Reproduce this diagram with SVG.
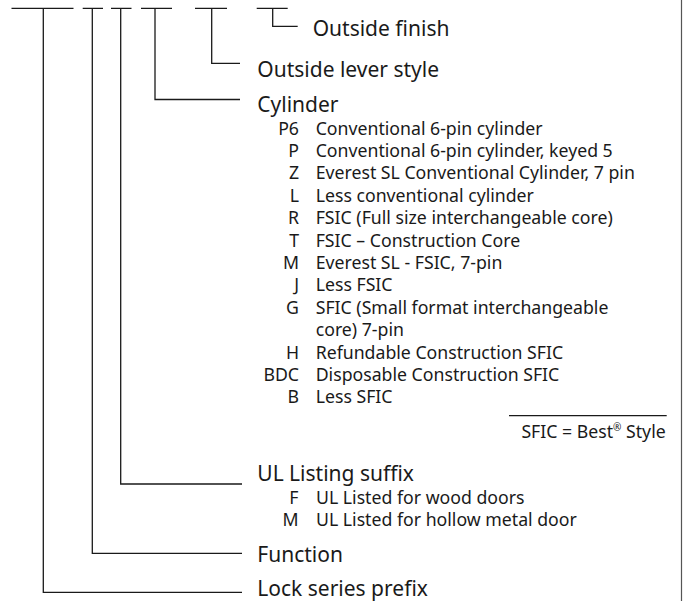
<svg xmlns="http://www.w3.org/2000/svg" width="683" height="601" viewBox="0 0 683 601">
<style>
.h{font-family:"Noto Sans","Open Sans",sans-serif;font-size:21px;fill:#1a1a1a}
.s{font-family:"Noto Sans","Open Sans",sans-serif;font-size:17.7px;fill:#1a1a1a}
.c{text-anchor:end}
.ln{fill:none;stroke:#1a1a1a;stroke-width:1.3}
</style>
<rect width="683" height="601" fill="#fff"/>
<line x1="681.5" y1="0" x2="681.5" y2="601" stroke="#555" stroke-width="1.2"/>
<g id="connectors" class="ln">
<path d="M11.5 8.3H73.5M43.3 8.3V592.3H242"/>
<path d="M82.7 8.3H103M92.3 8.3V553.3H242"/>
<path d="M111 8.3H131.5M120.7 8.3V484H242"/>
<path d="M141 8.3H172M155 8.3V99.5H240"/>
<path d="M195 8.3H227M211.7 8.3V63.3H240"/>
<path d="M256.7 8.3H287.7M272.7 8.3V26.3H297.7"/>
</g>
<g id="outside-finish"><text class="h" x="312.7" y="36">Outside finish</text></g>
<g id="outside-lever"><text class="h" x="257.3" y="76.5">Outside lever style</text></g>
<g id="cylinder">
<text class="h" x="257.3" y="111.5">Cylinder</text>
<text class="s c" x="299" y="134.5">P6</text><text class="s" x="315.7" y="134.5">Conventional 6-pin cylinder</text>
<text class="s c" x="299" y="156.9">P</text><text class="s" x="315.7" y="156.9">Conventional 6-pin cylinder, keyed 5</text>
<text class="s c" x="299" y="179.3">Z</text><text class="s" x="315.7" y="179.3">Everest SL Conventional Cylinder, 7 pin</text>
<text class="s c" x="299" y="201.7">L</text><text class="s" x="315.7" y="201.7">Less conventional cylinder</text>
<text class="s c" x="299" y="224.1">R</text><text class="s" x="315.7" y="224.1">FSIC (Full size interchangeable core)</text>
<text class="s c" x="299" y="246.5">T</text><text class="s" x="315.7" y="246.5">FSIC – Construction Core</text>
<text class="s c" x="299" y="268.9">M</text><text class="s" x="315.7" y="268.9">Everest SL - FSIC, 7-pin</text>
<text class="s c" x="299" y="291.3">J</text><text class="s" x="315.7" y="291.3">Less FSIC</text>
<text class="s c" x="299" y="313.7">G</text><text class="s" x="315.7" y="313.7">SFIC (Small format interchangeable</text>
<text class="s" x="315.7" y="336.1">core) 7-pin</text>
<text class="s c" x="299" y="358.5">H</text><text class="s" x="315.7" y="358.5">Refundable Construction SFIC</text>
<text class="s c" x="299" y="380.9">BDC</text><text class="s" x="315.7" y="380.9">Disposable Construction SFIC</text>
<text class="s c" x="299" y="403.3">B</text><text class="s" x="315.7" y="403.3">Less SFIC</text>
</g>
<g id="sfic-note">
<line class="ln" x1="509" y1="415.7" x2="666.7" y2="415.7" stroke-width="1"/>
<text class="s c" x="665.7" y="438.3">SFIC = Best<tspan font-size="10" dy="-7">®</tspan><tspan dy="7"> Style</tspan></text>
</g>
<g id="ul-listing">
<text class="h" x="257.3" y="481">UL Listing suffix</text>
<text class="s c" x="298.5" y="503.8">F</text><text class="s" x="316" y="503.8">UL Listed for wood doors</text>
<text class="s c" x="298.5" y="525.9">M</text><text class="s" x="316" y="525.9">UL Listed for hollow metal door</text>
</g>
<g id="function"><text class="h" x="257.3" y="561.5">Function</text></g>
<g id="lock-series"><text class="h" x="257.3" y="595.5">Lock series prefix</text></g>
</svg>
